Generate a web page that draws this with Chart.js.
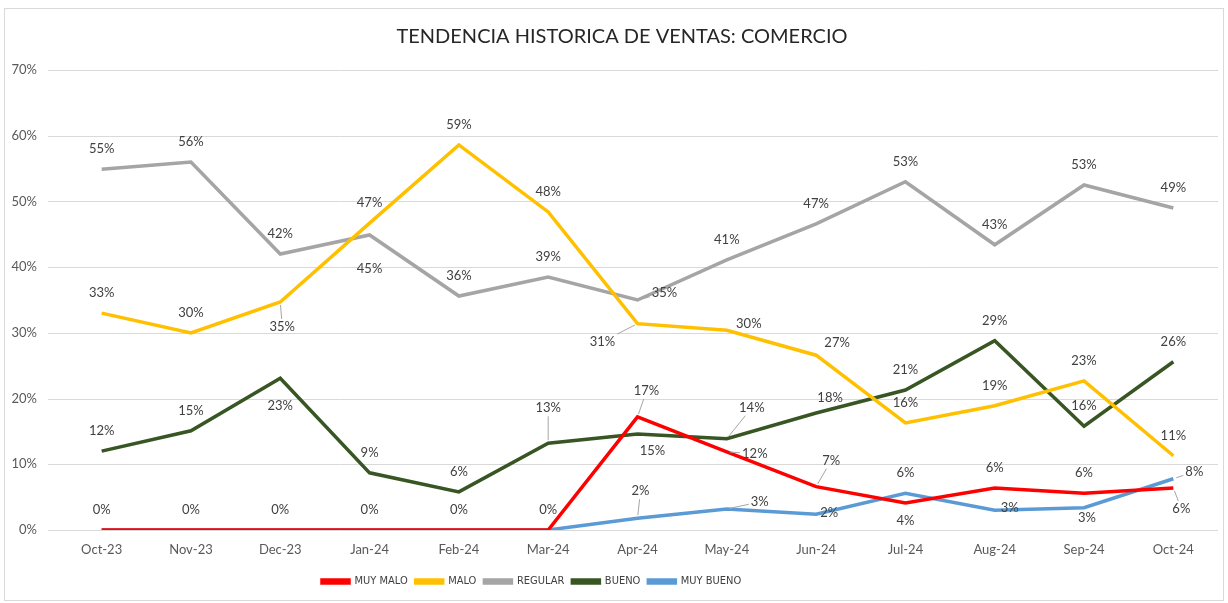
<!DOCTYPE html>
<html>
<head>
<meta charset="utf-8">
<script src="https://cdn.jsdelivr.net/npm/chart.js@4.4.1/dist/chart.umd.min.js"></script>
<style>
  html, body { margin: 0; padding: 0; background: #fff; }
  #wrap { width: 1228px; height: 603px; position: relative; }
</style>
</head>
<body>
<div id="wrap"><canvas id="chartVentas"></canvas></div>
<script>
// Datos (en %)
const meses = ['Oct-23','Nov-23','Dec-23','Jan-24','Feb-24','Mar-24','Apr-24','May-24','Jun-24','Jul-24','Aug-24','Sep-24','Oct-24'];
const muyMalo  = [0, 0, 0, 0, 0, 0, 17.2, 11.9, 6.6, 4.1, 6.4, 5.6, 6.4];
const malo     = [33.0, 30.0, 34.7, 46.7, 58.6, 48.4, 31.4, 30.4, 26.6, 16.3, 18.9, 22.7, 11.3];
const regular  = [54.9, 56.0, 42.0, 44.9, 35.6, 38.5, 35.0, 41.1, 46.6, 53.0, 43.4, 52.5, 49.0];
const bueno    = [12.0, 15.1, 23.1, 8.7, 5.8, 13.2, 14.6, 13.9, 17.8, 21.3, 28.8, 15.8, 25.6];
const muyBueno = [0, 0, 0, 0, 0, 0, 1.8, 3.2, 2.4, 5.6, 3.0, 3.4, 7.8];
const yTicks   = [0, 10, 20, 30, 40, 50, 60, 70];

const FONT = 'Lato, "Open Sans", sans-serif';
const FONT_LEYENDA = '"DejaVu Sans Condensed", Lato, sans-serif';

// Ubicación de las etiquetas que no van encima del punto: [dx, dy, línea guía]
const etiquetasEspeciales = {
  'MUY MALO':  { 6: [9, -26, true], 7: [28, 2, true], 8: [15, -26, true], 9: [0, 18], 12: [8, 21, true] },
  'MALO':      { 2: [2, 25, true], 6: [-35, 18, true], 7: [22, -6], 8: [21, -12] },
  'REGULAR':   { 3: [0, 34], 6: [27, -7, true] },
  'BUENO':     { 2: [0, 28], 5: [0, -35, true], 6: [15, 17], 7: [25, -31, true], 8: [14, -15] },
  'MUY BUENO': { 6: [3, -27, true], 7: [33, -7, true], 8: [13, -1], 10: [15, -2], 11: [3, 10], 12: [21, -7, true] }
};

// Marco exterior + ajuste del título y la leyenda (en Excel no quedan centrados en el lienzo)
const marcoPlugin = {
  id: 'marco',
  afterLayout: (chart) => {
    if (chart.titleBlock) chart.titleBlock.left = 26;
    if (chart.legend) chart.legend.left = 314;
  },
  beforeDraw: (chart) => {
    const ctx = chart.ctx;
    ctx.save();
    ctx.fillStyle = '#fff';
    ctx.fillRect(0, 0, chart.width, chart.height);
    ctx.strokeStyle = '#d9d9d9';
    ctx.lineWidth = 1;
    ctx.strokeRect(4.5, 8.5, chart.width - 9, chart.height - 11);
    ctx.restore();
  }
};

// Líneas horizontales de la cuadrícula (un poco más largas a la izquierda, como en Excel)
const cuadriculaPlugin = {
  id: 'cuadricula',
  beforeDatasetsDraw: (chart) => {
    const ctx = chart.ctx;
    const area = chart.chartArea;
    const y = chart.scales.y;
    ctx.save();
    ctx.strokeStyle = '#d9d9d9';
    ctx.lineWidth = 1;
    yTicks.forEach(v => {
      const py = Math.round(y.getPixelForValue(v)) + 0.5;
      ctx.beginPath();
      ctx.moveTo(area.left - 9, py);
      ctx.lineTo(area.right, py);
      ctx.stroke();
    });
    ctx.restore();
  }
};

// Etiquetas de datos con líneas guía
const etiquetasPlugin = {
  id: 'etiquetas',
  afterDatasetsDraw: (chart) => {
    const ctx = chart.ctx;
    const usadas = {};
    ctx.save();
    ctx.font = '13px ' + FONT;
    ctx.textAlign = 'center';
    ctx.textBaseline = 'middle';
    chart.data.datasets.forEach((ds, di) => {
      const meta = chart.getDatasetMeta(di);
      const especiales = etiquetasEspeciales[ds.label] || {};
      meta.data.forEach((pt, i) => {
        const texto = Math.round(ds.data[i]) + '%';
        const pos = especiales[i] || [0, -20];
        const lx = pt.x + pos[0];
        const ly = pt.y + pos[1];
        // no repetir la misma etiqueta en el mismo sitio (los 0% superpuestos)
        const clave = Math.round(lx) + ':' + Math.round(ly) + ':' + texto;
        if (usadas[clave]) return;
        usadas[clave] = true;
        if (pos[2]) {
          const w = ctx.measureText(texto).width / 2 + 2;
          const h = 8;
          const dx = pt.x - lx, dy = pt.y - ly;
          const t = Math.min(Math.abs(dx) > 0 ? w / Math.abs(dx) : 99, Math.abs(dy) > 0 ? h / Math.abs(dy) : 99);
          const ex = lx + dx * t, ey = ly + dy * t;
          const len = Math.hypot(pt.x - ex, pt.y - ey);
          if (len > 5) {
            const sx = pt.x - (pt.x - ex) * 3 / len;
            const sy = pt.y - (pt.y - ey) * 3 / len;
            ctx.strokeStyle = '#a6a6a6';
            ctx.lineWidth = 1;
            ctx.beginPath();
            ctx.moveTo(sx, sy);
            ctx.lineTo(ex, ey);
            ctx.stroke();
          }
        }
        ctx.fillStyle = '#404040';
        ctx.fillText(texto, lx, ly);
      });
    });
    ctx.restore();
  }
};

function serie(label, data, color) {
  return {
    label: label,
    data: data,
    borderColor: color,
    backgroundColor: color,
    borderWidth: 3.5,
    pointRadius: 0,
    pointHoverRadius: 0,
    tension: 0,
    fill: false
  };
}

const chartVentas = new Chart(document.getElementById('chartVentas'), {
  type: 'line',
  data: {
    labels: meses,
    datasets: [
      serie('MUY MALO', muyMalo, '#ff0000'),
      serie('MALO', malo, '#ffc000'),
      serie('REGULAR', regular, '#a5a5a5'),
      serie('BUENO', bueno, '#375623'),
      serie('MUY BUENO', muyBueno, '#5b9bd5')
    ]
  },
  options: {
    responsive: true,
    maintainAspectRatio: false,
    animation: false,
    layout: { padding: { left: 0, right: 10, top: 0, bottom: 6 } },
    scales: {
      x: {
        offset: true,
        grid: { display: false },
        border: { display: false },
        ticks: { color: '#595959', font: { family: FONT, size: 13 }, padding: 4, maxRotation: 0 },
        afterFit: (scale) => { scale.height = 38; }
      },
      y: {
        min: 0,
        max: 70,
        grid: { display: false },
        border: { display: false },
        afterBuildTicks: (scale) => { scale.ticks = yTicks.map(v => ({ value: v })); },
        ticks: {
          color: '#595959',
          font: { family: FONT, size: 13 },
          padding: 12,
          callback: val => val + '%'
        },
        afterFit: (scale) => { scale.width = 57; }
      }
    },
    plugins: {
      title: {
        display: true,
        text: 'TENDENCIA HISTORICA DE VENTAS: COMERCIO',
        color: '#262626',
        font: { family: FONT, size: 20, weight: 'normal' },
        padding: { top: 25, bottom: 21 }
      },
      legend: {
        position: 'bottom',
        align: 'start',
        labels: {
          color: '#404040',
          font: { family: FONT_LEYENDA, size: 11 },
          boxWidth: 27,
          boxHeight: 3,
          padding: 8
        }
      },
      tooltip: { enabled: false }
    }
  },
  plugins: [marcoPlugin, cuadriculaPlugin, etiquetasPlugin]
});
</script>
</body>
</html>
